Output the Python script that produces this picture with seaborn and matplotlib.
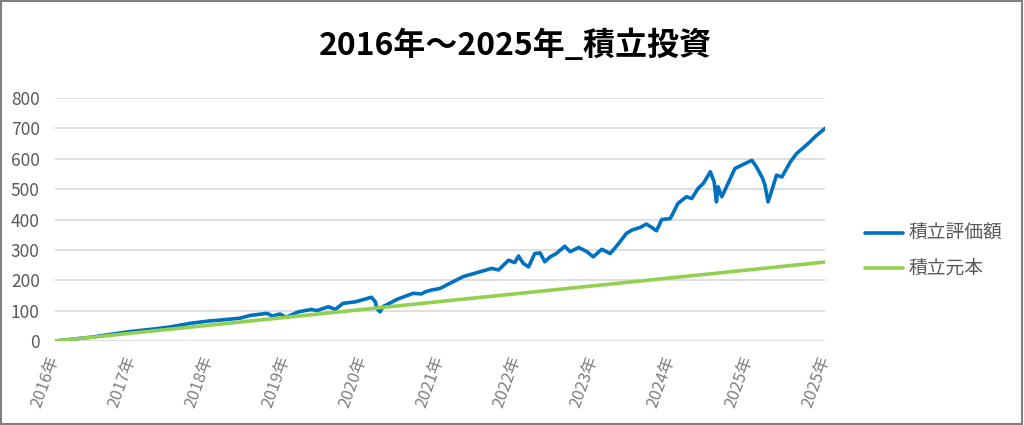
import numpy as np
import pandas as pd
import matplotlib
matplotlib.use('Agg')
import matplotlib.pyplot as plt
from matplotlib.patches import Rectangle
import seaborn as sns

# Tick labels along the x axis (one per year position)
year_labels = ['2016年', '2017年', '2018年', '2019年', '2020年', '2021年',
               '2022年', '2023年', '2024年', '2025年', '2025年']

# 積立評価額: positions in years from the start
value_t = [0.00, 0.45, 0.97, 1.30, 1.49, 1.75, 2.00, 2.10, 2.40, 2.53, 2.75, 2.83,
           2.92, 3.00, 3.16, 3.33, 3.40, 3.55, 3.64, 3.74, 3.90, 4.11, 4.16, 4.18,
           4.22, 4.26, 4.44, 4.65, 4.76, 4.81, 4.89, 5.00, 5.13, 5.30, 5.52, 5.67,
           5.76, 5.89, 5.97, 6.02, 6.08, 6.15, 6.23, 6.30, 6.36, 6.43, 6.51, 6.62,
           6.69, 6.80, 6.91, 6.99, 7.10, 7.21, 7.32, 7.42, 7.49, 7.60, 7.68, 7.75,
           7.81, 7.88, 7.99, 8.09, 8.20, 8.27, 8.35, 8.42, 8.51, 8.56, 8.59, 8.61,
           8.66, 8.75, 8.83, 8.96, 9.05, 9.11, 9.19, 9.22, 9.26, 9.31, 9.37, 9.44,
           9.55, 9.63, 9.78, 9.89, 10.0]
value_v = [0, 12, 31, 40, 46, 58, 66, 68, 75, 84, 91, 82,
           89, 78, 96, 104, 100, 113, 104, 124, 129, 144, 129, 107,
           96, 113, 137, 157, 155, 162, 168, 173, 190, 212, 228, 239,
           234, 266, 258, 280, 256, 244, 288, 290, 261, 277, 288, 312,
           294, 308, 294, 277, 302, 288, 321, 354, 365, 374, 385, 374,
           363, 400, 403, 453, 475, 469, 502, 519, 557, 524, 458, 508,
           475, 524, 568, 584, 595, 573, 535, 513, 458, 497, 546, 540,
           590, 617, 650, 677, 700]

# 積立元本: straight line, values at each year position
principal_t = [0, 1, 2, 3, 4, 5, 6, 7, 8, 9, 10]
principal_v = [0, 26, 52, 78, 104, 130, 156, 182, 208, 234, 260]

df = pd.concat([
    pd.DataFrame({'t': value_t, 'v': value_v, 'series': '積立評価額'}),
    pd.DataFrame({'t': principal_t, 'v': principal_v, 'series': '積立元本'}),
])

sns.set_theme(style='white')
plt.rcParams['font.family'] = ['Noto Sans CJK JP', 'DejaVu Sans']

fig = plt.figure(figsize=(10.24, 4.25), dpi=100)
ax = fig.add_axes([0.0537, 0.1976, 0.752, 0.5718])

sns.lineplot(data=df, x='t', y='v', hue='series', sort=False,
             palette={'積立評価額': '#0070C0', '積立元本': '#92D050'},
             linewidth=2.6, ax=ax)

ax.set_xlim(0, 10)
ax.set_ylim(0, 800)
ax.set_yticks(range(0, 801, 100))
ax.set_xticks(range(len(year_labels)))
ax.set_xticklabels(year_labels, rotation=70, ha='right', va='center',
                   rotation_mode='anchor', color='#7f7f7f', fontsize=12)
ax.tick_params(axis='y', colors='#595959', labelsize=12.5, length=0, pad=11)
ax.tick_params(axis='x', length=0, pad=11)
ax.grid(axis='y', color='#d9d9d9', linewidth=1.2)
ax.set_axisbelow(True)
for s in ax.spines.values():
    s.set_visible(False)
ax.set_xlabel('')
ax.set_ylabel('')

leg = ax.legend(loc='center left', bbox_to_anchor=(1.052, 0.37), frameon=False,
                fontsize=13.5, handlelength=2.0, handletextpad=0.3, labelspacing=0.75,
                borderpad=0, borderaxespad=0)
for t in leg.get_texts():
    t.set_color('#595959')

fig.text(0.503, 0.893, '2016年～2025年_積立投資', ha='center', va='center',
         fontsize=23, fontweight='bold', color='black')

fig.patches.append(Rectangle((0.001, 0.002), 0.997, 0.995, transform=fig.transFigure,
                             fill=False, edgecolor='#808080', linewidth=1.5))

fig.savefig('out.png', dpi=100)
